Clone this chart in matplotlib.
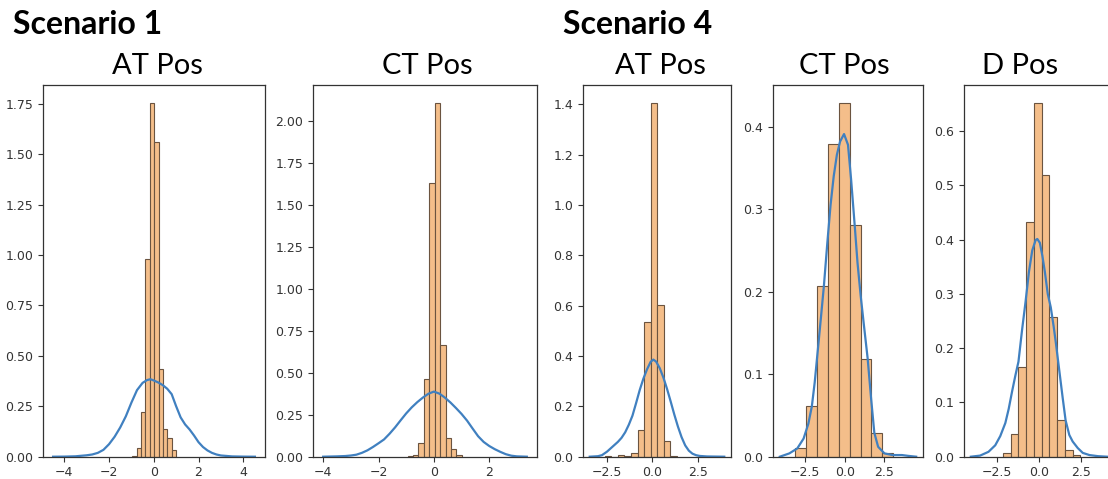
import matplotlib
matplotlib.use("Agg")
import matplotlib.pyplot as plt
import numpy as np

plt.rcParams['font.family'] = ['DejaVu Sans']
head_font = ['Lato', 'DejaVu Sans']

# histogram bins (edges) and densities
s1_at_edges = [-0.967, -0.77, -0.573, -0.376, -0.179, 0.018, 0.215, 0.412, 0.609, 0.806, 1.003]
s1_at_hist = [0.004, 0.041, 0.22, 0.98, 1.755, 1.56, 0.435, 0.136, 0.094, 0.033]
s1_at_kde_x = [-4.5, -4.0, -3.5, -3.0, -2.75, -2.5, -2.25, -2.0, -1.75, -1.5, -1.25, -1.0, -0.75,
               -0.5, -0.3, -0.15, 0.0, 0.2, 0.4, 0.6, 0.8, 1.0, 1.2, 1.4, 1.6, 1.8, 2.0, 2.2,
               2.4, 2.6, 2.8, 3.0, 3.5, 4.0, 4.52]
s1_at_kde_y = [0.0, 0.0005, 0.002, 0.007, 0.011, 0.019, 0.034, 0.062, 0.099, 0.145, 0.2, 0.268,
               0.33, 0.366, 0.38, 0.384, 0.378, 0.368, 0.355, 0.337, 0.31, 0.25, 0.195, 0.16,
               0.135, 0.105, 0.072, 0.048, 0.031, 0.019, 0.011, 0.006, 0.0015, 0.0004, 0.0]

s1_ct_edges = [-0.95, -0.754, -0.558, -0.362, -0.166, 0.03, 0.226, 0.422, 0.618, 0.814, 1.01]
s1_ct_hist = [0.003, 0.01, 0.084, 0.464, 1.63, 2.11, 0.667, 0.113, 0.044, 0.01]
s1_ct_kde_x = [-4.0, -3.5, -3.2, -3.0, -2.8, -2.6, -2.4, -2.2, -2.0, -1.8, -1.6, -1.4, -1.2,
               -1.0, -0.8, -0.6, -0.4, -0.2, 0.0, 0.2, 0.4, 0.6, 0.8, 1.0, 1.2, 1.4, 1.6, 1.8,
               2.0, 2.2, 2.4, 2.6, 2.8, 3.0, 3.36]
s1_ct_kde_y = [0.0, 0.002, 0.004, 0.007, 0.012, 0.023, 0.038, 0.058, 0.08, 0.103, 0.137, 0.175,
               0.217, 0.258, 0.294, 0.325, 0.352, 0.375, 0.388, 0.376, 0.352, 0.323, 0.29,
               0.255, 0.215, 0.168, 0.122, 0.088, 0.064, 0.045, 0.029, 0.015, 0.006, 0.002, 0.0]

s4_at_edges = [-2.63, -2.268, -1.906, -1.544, -1.182, -0.82, -0.458, -0.096, 0.266, 0.628, 0.99, 1.352]
s4_at_hist = [0.002, 0.0, 0.007, 0.002, 0.013, 0.106, 0.537, 1.407, 0.603, 0.061, 0.003]
s4_at_kde_x = [-3.45, -3.0, -2.78, -2.5, -2.3, -2.1, -1.9, -1.7, -1.5, -1.3, -1.1, -0.9, -0.7,
               -0.5, -0.3, -0.1, 0.05, 0.2, 0.4, 0.6, 0.8, 1.0, 1.2, 1.4, 1.6, 1.8, 2.0, 2.2,
               2.4, 2.6, 3.0, 3.95]
s4_at_kde_y = [0.0, 0.002, 0.006, 0.02, 0.033, 0.046, 0.059, 0.075, 0.097, 0.127, 0.163, 0.213,
               0.265, 0.31, 0.347, 0.377, 0.386, 0.378, 0.352, 0.315, 0.27, 0.22, 0.168, 0.12,
               0.078, 0.045, 0.024, 0.012, 0.006, 0.003, 0.001, 0.0]

s4_ct_edges = [-3.12, -2.434, -1.748, -1.062, -0.376, 0.31, 0.996, 1.682, 2.368, 3.054]
s4_ct_hist = [0.010, 0.061, 0.207, 0.379, 0.429, 0.281, 0.119, 0.029, 0.005]
s4_ct_kde_x = [-4.1, -3.5, -3.0, -2.6, -2.3, -2.08, -1.9, -1.7, -1.5, -1.32, -1.1, -0.9, -0.7,
               -0.5, -0.3, -0.05, 0.2, 0.4, 0.62, 0.8, 1.0, 1.2, 1.44, 1.65, 1.86, 2.1, 2.5,
               3.0, 3.6, 4.0, 4.5]
s4_ct_kde_y = [0.0, 0.004, 0.01, 0.022, 0.04, 0.061, 0.09, 0.13, 0.17, 0.207, 0.26, 0.305, 0.34,
               0.366, 0.382, 0.391, 0.378, 0.335, 0.281, 0.235, 0.195, 0.16, 0.119, 0.072,
               0.029, 0.012, 0.004, 0.002, 0.002, 0.001, 0.0]

s4_d_edges = [-2.14, -1.68, -1.22, -0.76, -0.30, 0.16, 0.62, 1.08, 1.54, 2.0, 2.46]
s4_d_hist = [0.007, 0.042, 0.166, 0.433, 0.652, 0.519, 0.257, 0.067, 0.012, 0.003]
s4_d_kde_x = [-4.05, -3.5, -3.0, -2.6, -2.3, -2.0, -1.8, -1.6, -1.4, -1.22, -1.0, -0.8, -0.6,
              -0.4, -0.2, -0.1, 0.05, 0.2, 0.35, 0.52, 0.7, 0.87, 1.0, 1.2, 1.4, 1.58, 1.8,
              2.0, 2.3, 2.6, 3.0, 3.5, 4.05]
s4_d_kde_y = [0.0, 0.002, 0.009, 0.021, 0.038, 0.062, 0.088, 0.12, 0.15, 0.175, 0.235, 0.285,
              0.34, 0.38, 0.399, 0.401, 0.394, 0.37, 0.34, 0.3, 0.275, 0.24, 0.21, 0.16, 0.11,
              0.067, 0.04, 0.028, 0.016, 0.007, 0.003, 0.001, 0.0]

panels = [
    ("AT Pos", s1_at_edges, s1_at_hist, s1_at_kde_x, s1_at_kde_y, 43, 222, 157),
    ("CT Pos", s1_ct_edges, s1_ct_hist, s1_ct_kde_x, s1_ct_kde_y, 313, 224, 427),
    ("AT Pos", s4_at_edges, s4_at_hist, s4_at_kde_x, s4_at_kde_y, 583, 148, 660),
    ("CT Pos", s4_ct_edges, s4_ct_hist, s4_ct_kde_x, s4_ct_kde_y, 773, 150, 844),
    ("D Pos", s4_d_edges, s4_d_hist, s4_d_kde_x, s4_d_kde_y, 964, 150, 1020),
]

W, H = 1108, 479
fig = plt.figure(figsize=(W / 100, H / 100), dpi=100)
fig.patch.set_facecolor('white')

ax_bottom = 456.7
ax_top = 85

for title, edges, hist, kx, ky, left, width, tx in panels:
    ax = fig.add_axes([left / W, (H - ax_bottom) / H, width / W, (ax_bottom - ax_top) / H])
    edges = np.array(edges)
    ax.hist(edges[:-1], bins=edges, weights=hist, color='#f4be8a',
            edgecolor='#6b5440', linewidth=0.8)
    ax.plot(kx, ky, color='#4080c0', lw=1.6)
    ax.tick_params(labelsize=9, colors='#333333', length=3.5, width=0.8)
    for sp in ax.spines.values():
        sp.set_color('#333333')
        sp.set_linewidth(0.9)
    fig.text(tx / W, 1 - 74 / H, title, ha='center', va='baseline', fontsize=21,
             color='black', family=head_font)

fig.text(13 / W, 1 - 34 / H, "Scenario 1", ha='left', va='baseline', fontsize=23,
         fontweight='bold', color='black', family=head_font)
fig.text(563 / W, 1 - 34 / H, "Scenario 4", ha='left', va='baseline', fontsize=23,
         fontweight='bold', color='black', family=head_font)

fig.savefig('out.png', dpi=100)
